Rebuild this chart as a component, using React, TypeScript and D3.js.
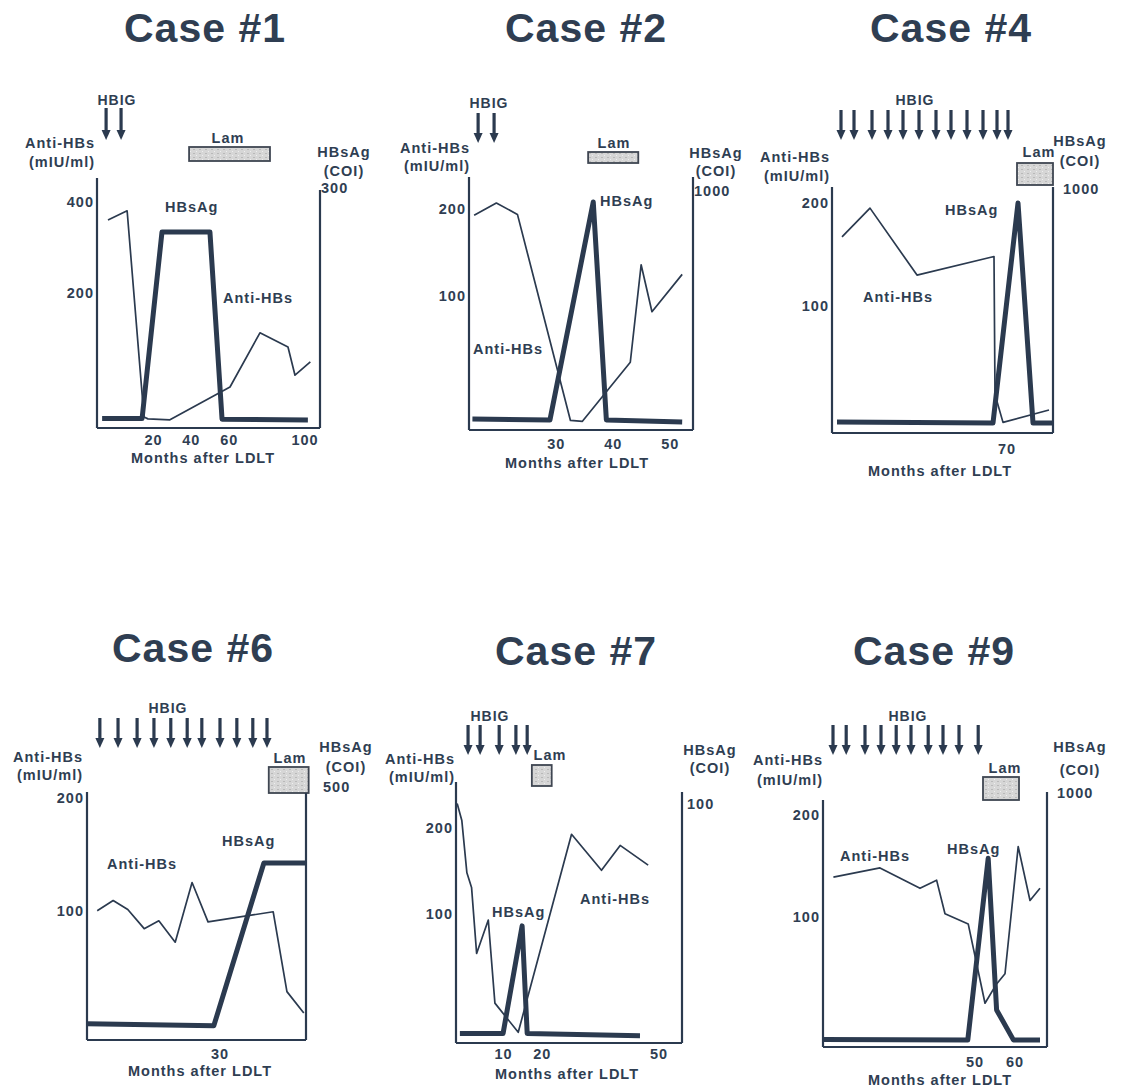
import React from "react";
import * as d3 from "d3";

// ---------------- DATA ----------------
// Case #1
const c1AntiMonths = [-4, 6.1, 15, 17.1, 28.7, 60.4, 76.2, 91, 94.7, 102.8];
const c1AntiValues = [361, 381, -72, -76, -78, -6, 113, 82, 20, 49];
const c1HbsMonths = [-7.1, 14, 24.5, 49.8, 56.2, 101.5];
const c1HbsValues = [12, 12, 245, 245, 11, 10];
const c1Hbig = [-5, 2.9];
const c1Lam = [38.8, 81.5];
const c1XTicks = [20, 40, 60, 100];
const c1YTicks = [200, 400];
const c1RightMax = 300;

// Case #2
const c2AntiMonths = [15.6, 19.5, 23.2, 32.5, 34.6, 43, 44.9, 46.8, 52.1];
const c2AntiValues = [193, 207, 194, -43, -44, 24, 136, 82, 125];
const c2HbsMonths = [15.3, 28.9, 36.5, 38.8, 52.1];
const c2HbsValues = [46, 42, 954, 42, 33];
const c2Hbig = [16.3, 19.1];
const c2Lam = [35.6, 44.4];
const c2XTicks = [30, 40, 50];
const c2YTicks = [100, 200];
const c2RightMax = 1000;

// Case #4
const c4AntiMonths = [4, 15.2, 34, 64.8, 65.2, 68.4, 86.8];
const c4AntiValues = [167, 195, 130, 148, 14, -13, -1];
const c4HbsMonths = [2, 64.4, 74.4, 80.4, 88];
const c4HbsValues = [45, 41, 943, 41, 41];
const c4Hbig = [3.6, 8.8, 16, 22.4, 28.4, 34.8, 41.6, 47.6, 54, 60.4, 66, 70.4];
const c4Lam = [74, 88.4];
const c4XTicks = [70];
const c4YTicks = [100, 200];
const c4RightMax = 1000;

// Case #6
const c6AntiMonths = [2.3, 5.9, 9.2, 12.9, 16.2, 19.9, 23.7, 27.3, 42, 45.1, 48.9];
const c6AntiValues = [100, 109, 101, 84, 91, 72, 125, 90, 99, 28, 9];
const c6HbsMonths = [0, 28.6, 39.9, 49.4];
const c6HbsValues = [32, 28, 350, 350];
const c6Hbig = [2.9, 7, 11.3, 15.1, 18.9, 22.6, 25.9, 30, 33.8, 37.4, 40.6];
const c6Lam = [41, 50];
const c6XTicks = [30];
const c6YTicks = [100, 200];
const c6RightMax = 500;

// Case #7
const c7AntiMonths = [-1.9, -0.7, 0.6, 1.8, 3.1, 6.1, 7.8, 13.8, 27.5, 35.2, 40, 47.2];
const c7AntiValues = [229, 209, 148, 131, 54, 93, -4, -38, 193, 151, 180, 157];
const c7HbsMonths = [-1.2, 9.9, 14.8, 16.1, 45.1];
const c7HbsValues = [4, 4, 49, 4, 3];
const c7Hbig = [0.9, 4, 8.9, 13.2, 16.1];
const c7Lam = [17.3, 22.4];
const c7XTicks = [10, 20, 50];
const c7YTicks = [100, 200];
const c7RightMax = 100;

// Case #9
const c9AntiMonths = [14.6, 26.25, 36.25, 40.4, 42.5, 48.3, 52.5, 55.4, 57.5, 60.8, 63.75, 66.25];
const c9AntiValues = [139, 148, 128, 136, 103, 93, 15, 34, 44, 169, 116, 128];
const c9HbsMonths = [12.1, 48.2, 53.3, 55.4, 59.6, 66.25];
const c9HbsValues = [30, 28, 743, 146, 28, 28];
const c9Hbig = [14.5, 17.8, 22.5, 26.5, 30.3, 34, 38.3, 42, 46, 50.8];
const c9Lam = [52, 61];
const c9XTicks = [50, 60];
const c9YTicks = [100, 200];
const c9RightMax = 1000;

// ---------------- LAYOUT ----------------
const INK = "#2b3a4f";
const TXT = "#2f3e52";
const FONT = "'Liberation Sans', Arial, Helvetica, sans-serif";

type PanelCfg = {
  id: string; title: string; titleX: number; titleY: number;
  left: number; right: number; bottom: number; leftTop: number; rightTop: number;
  xDomain: [number, number]; yDomain: [number, number];
  rightMax: number; rightMaxPx: number;
  antiM: number[]; antiV: number[]; hbsM: number[]; hbsV: number[];
  hbig: number[]; lam: number[]; xTicks: number[]; yTicks: number[];
  arrowTop: number; arrowBottom: number; hbigX: number; hbigY: number;
  lamTop: number; lamBottom: number; lamLabelX: number; lamLabelY: number;
  axisLabelEnd: number; axisLabelY1: number; axisLabelY2: number;
  rLabelX: number; rLabelY1: number; rLabelY2: number; rMaxX: number;
  xTickY: number; xTitleX: number; xTitleY: number;
  hbsLabelX: number; hbsLabelY: number; antiLabelX: number; antiLabelY: number;
};

const panels: PanelCfg[] = [
  {
    id: "c1", title: "Case #1", titleX: 205, titleY: 42,
    left: 97, right: 320, bottom: 428, leftTop: 178, rightTop: 190,
    xDomain: [-9.8, 107.9], yDomain: [-96, 453], rightMax: c1RightMax, rightMaxPx: 188,
    antiM: c1AntiMonths, antiV: c1AntiValues, hbsM: c1HbsMonths, hbsV: c1HbsValues,
    hbig: c1Hbig, lam: c1Lam, xTicks: c1XTicks, yTicks: c1YTicks,
    arrowTop: 108, arrowBottom: 140, hbigX: 117, hbigY: 105,
    lamTop: 147, lamBottom: 161, lamLabelX: 228, lamLabelY: 143,
    axisLabelEnd: 95, axisLabelY1: 148, axisLabelY2: 167,
    rLabelX: 344, rLabelY1: 157, rLabelY2: 176, rMaxX: 321,
    xTickY: 445, xTitleX: 203, xTitleY: 463,
    hbsLabelX: 165, hbsLabelY: 212, antiLabelX: 223, antiLabelY: 303,
  },
  {
    id: "c2", title: "Case #2", titleX: 586, titleY: 42,
    left: 469, right: 693, bottom: 430, leftTop: 177, rightTop: 177,
    xDomain: [14.7, 54], yDomain: [-54, 237], rightMax: c2RightMax, rightMaxPx: 191,
    antiM: c2AntiMonths, antiV: c2AntiValues, hbsM: c2HbsMonths, hbsV: c2HbsValues,
    hbig: c2Hbig, lam: c2Lam, xTicks: c2XTicks, yTicks: c2YTicks,
    arrowTop: 113, arrowBottom: 143, hbigX: 489, hbigY: 108,
    lamTop: 152, lamBottom: 163, lamLabelX: 614, lamLabelY: 148,
    axisLabelEnd: 470, axisLabelY1: 153, axisLabelY2: 171,
    rLabelX: 716, rLabelY1: 158, rLabelY2: 176, rMaxX: 694,
    xTickY: 449, xTitleX: 577, xTitleY: 468,
    hbsLabelX: 600, hbsLabelY: 206, antiLabelX: 473, antiLabelY: 354,
  },
  {
    id: "c4", title: "Case #4", titleX: 951, titleY: 42,
    left: 832, right: 1053, bottom: 433, leftTop: 187, rightTop: 187,
    xDomain: [0, 88.4], yDomain: [-23.3, 215.5], rightMax: c4RightMax, rightMaxPx: 189,
    antiM: c4AntiMonths, antiV: c4AntiValues, hbsM: c4HbsMonths, hbsV: c4HbsValues,
    hbig: c4Hbig, lam: c4Lam, xTicks: c4XTicks, yTicks: c4YTicks,
    arrowTop: 110, arrowBottom: 140, hbigX: 915, hbigY: 105,
    lamTop: 163, lamBottom: 185, lamLabelX: 1039, lamLabelY: 157,
    axisLabelEnd: 830, axisLabelY1: 162, axisLabelY2: 181,
    rLabelX: 1080, rLabelY1: 146, rLabelY2: 166, rMaxX: 1063,
    xTickY: 454, xTitleX: 940, xTitleY: 476,
    hbsLabelX: 945, hbsLabelY: 215, antiLabelX: 863, antiLabelY: 302,
  },
  {
    id: "c6", title: "Case #6", titleX: 193, titleY: 662,
    left: 87, right: 306, bottom: 1040, leftTop: 792, rightTop: 793,
    xDomain: [0, 49.4], yDomain: [-15, 205.5], rightMax: c6RightMax, rightMaxPx: 787,
    antiM: c6AntiMonths, antiV: c6AntiValues, hbsM: c6HbsMonths, hbsV: c6HbsValues,
    hbig: c6Hbig, lam: c6Lam, xTicks: c6XTicks, yTicks: c6YTicks,
    arrowTop: 718, arrowBottom: 748, hbigX: 168, hbigY: 713,
    lamTop: 767, lamBottom: 793, lamLabelX: 290, lamLabelY: 763,
    axisLabelEnd: 83, axisLabelY1: 762, axisLabelY2: 780,
    rLabelX: 346, rLabelY1: 752, rLabelY2: 772, rMaxX: 323,
    xTickY: 1059, xTitleX: 200, xTitleY: 1076,
    hbsLabelX: 222, hbsLabelY: 846, antiLabelX: 107, antiLabelY: 869,
  },
  {
    id: "c7", title: "Case #7", titleX: 576, titleY: 665,
    left: 456, right: 682, bottom: 1043, leftTop: 782, rightTop: 792,
    xDomain: [-2.2, 55.9], yDomain: [-50.5, 254], rightMax: c7RightMax, rightMaxPx: 804,
    antiM: c7AntiMonths, antiV: c7AntiValues, hbsM: c7HbsMonths, hbsV: c7HbsValues,
    hbig: c7Hbig, lam: c7Lam, xTicks: c7XTicks, yTicks: c7YTicks,
    arrowTop: 725, arrowBottom: 755, hbigX: 490, hbigY: 721,
    lamTop: 765, lamBottom: 786, lamLabelX: 550, lamLabelY: 760,
    axisLabelEnd: 455, axisLabelY1: 764, axisLabelY2: 782,
    rLabelX: 710, rLabelY1: 755, rLabelY2: 773, rMaxX: 687,
    xTickY: 1059, xTitleX: 567, xTitleY: 1079,
    hbsLabelX: 492, hbsLabelY: 917, antiLabelX: 580, antiLabelY: 904,
  },
  {
    id: "c9", title: "Case #9", titleX: 934, titleY: 665,
    left: 823, right: 1047, bottom: 1047, leftTop: 800, rightTop: 792,
    xDomain: [12, 68], yDomain: [-28, 214.8], rightMax: c9RightMax, rightMaxPx: 793,
    antiM: c9AntiMonths, antiV: c9AntiValues, hbsM: c9HbsMonths, hbsV: c9HbsValues,
    hbig: c9Hbig, lam: c9Lam, xTicks: c9XTicks, yTicks: c9YTicks,
    arrowTop: 725, arrowBottom: 755, hbigX: 908, hbigY: 721,
    lamTop: 777, lamBottom: 800, lamLabelX: 1005, lamLabelY: 773,
    axisLabelEnd: 823, axisLabelY1: 765, axisLabelY2: 785,
    rLabelX: 1080, rLabelY1: 752, rLabelY2: 775, rMaxX: 1057,
    xTickY: 1067, xTitleX: 940, xTitleY: 1085,
    hbsLabelX: 947, hbsLabelY: 854, antiLabelX: 840, antiLabelY: 861,
  },
];

const labelStyle: React.CSSProperties = {
  fontFamily: FONT, fontWeight: 700, fontSize: 14.5, letterSpacing: 1, fill: TXT,
};

function Panel({ p }: { p: PanelCfg }) {
  const x = d3.scaleLinear().domain(p.xDomain).range([p.left, p.right]);
  const yL = d3.scaleLinear().domain(p.yDomain).range([p.bottom, p.leftTop]);
  const yR = d3.scaleLinear().domain([0, p.rightMax]).range([p.bottom, p.rightMaxPx]);

  const antiLine = d3.line<number>().x((_, i) => x(p.antiM[i])).y((v) => yL(v));
  const hbsLine = d3.line<number>().x((_, i) => x(p.hbsM[i])).y((v) => yR(v));

  return (
    <g>
      <text x={p.titleX} y={p.titleY} textAnchor="middle"
        style={{ fontFamily: FONT, fontWeight: 700, fontSize: 41, letterSpacing: 1, fill: TXT }}>
        {p.title}
      </text>

      {/* HBIG arrows */}
      <text x={p.hbigX} y={p.hbigY} textAnchor="middle" style={{ ...labelStyle, fontSize: 14 }}>HBIG</text>
      {p.hbig.map((m, i) => {
        const ax = x(m);
        return (
          <g key={i}>
            <line x1={ax} x2={ax} y1={p.arrowTop} y2={p.arrowBottom - 7} stroke={INK} strokeWidth={3.2} />
            <path d={`M${ax - 4.5},${p.arrowBottom - 10} L${ax + 4.5},${p.arrowBottom - 10} L${ax},${p.arrowBottom} Z`} fill={INK} />
          </g>
        );
      })}

      {/* Lam box */}
      <text x={p.lamLabelX} y={p.lamLabelY} textAnchor="middle" style={labelStyle}>Lam</text>
      <rect x={x(p.lam[0])} y={p.lamTop} width={x(p.lam[1]) - x(p.lam[0])} height={p.lamBottom - p.lamTop}
        fill="url(#lamTexture)" stroke="#3f4652" strokeWidth={1.8} />

      {/* axis titles */}
      <text x={p.axisLabelEnd} y={p.axisLabelY1} textAnchor="end" style={labelStyle}>Anti-HBs</text>
      <text x={p.axisLabelEnd} y={p.axisLabelY2} textAnchor="end" style={labelStyle}>(mIU/ml)</text>
      <text x={p.rLabelX} y={p.rLabelY1} textAnchor="middle" style={labelStyle}>HBsAg</text>
      <text x={p.rLabelX} y={p.rLabelY2} textAnchor="middle" style={labelStyle}>(COI)</text>
      <text x={p.rMaxX} y={yR(p.rightMax) + 5} textAnchor="start" style={labelStyle}>{p.rightMax}</text>

      {/* axes */}
      <line x1={p.left} x2={p.left} y1={p.leftTop} y2={p.bottom} stroke={INK} strokeWidth={2.2} />
      <line x1={p.right} x2={p.right} y1={p.rightTop} y2={p.bottom} stroke={INK} strokeWidth={2.2} />
      <line x1={p.left} x2={p.right} y1={p.bottom} y2={p.bottom} stroke={INK} strokeWidth={2.2} />

      {p.yTicks.map((t) => (
        <text key={t} x={p.left - 3} y={yL(t) + 5} textAnchor="end" style={labelStyle}>{t}</text>
      ))}
      {p.xTicks.map((t) => (
        <text key={t} x={x(t)} y={p.xTickY} textAnchor="middle" style={labelStyle}>{t}</text>
      ))}
      <text x={p.xTitleX} y={p.xTitleY} textAnchor="middle" style={labelStyle}>Months after LDLT</text>

      {/* series */}
      <path d={antiLine(p.antiV) || ""} fill="none" stroke={INK} strokeWidth={1.7} strokeLinejoin="round" />
      <path d={hbsLine(p.hbsV) || ""} fill="none" stroke={INK} strokeWidth={5} strokeLinejoin="round" />

      <text x={p.hbsLabelX} y={p.hbsLabelY} style={labelStyle}>HBsAg</text>
      <text x={p.antiLabelX} y={p.antiLabelY} style={labelStyle}>Anti-HBs</text>
    </g>
  );
}

export default function App() {
  return (
    <svg width={1122} height={1089} viewBox="0 0 1122 1089"
      style={{ position: "absolute", left: 0, top: 0, background: "#ffffff" }}>
      <defs>
        <pattern id="lamTexture" width={6} height={4} patternUnits="userSpaceOnUse">
          <rect width={6} height={4} fill="#d6d6d6" />
          <rect x={1} y={1} width={2} height={1} fill="#b9b9b9" />
          <rect x={4} y={3} width={1} height={1} fill="#efefef" />
        </pattern>
      </defs>
      <rect x={0} y={0} width={1122} height={1089} fill="#ffffff" />
      {panels.map((p) => (
        <Panel key={p.id} p={p} />
      ))}
    </svg>
  );
}
